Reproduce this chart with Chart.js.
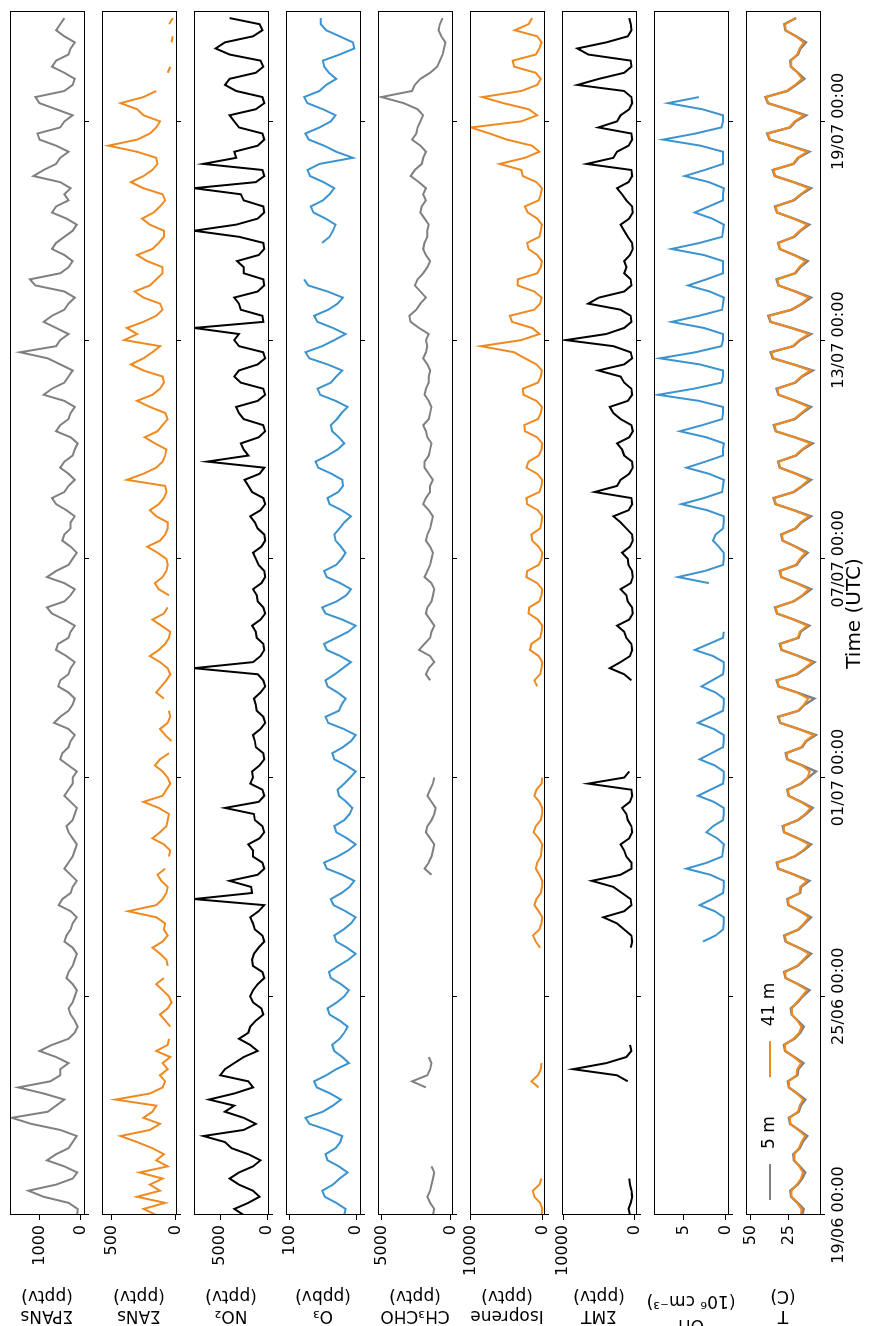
<!DOCTYPE html>
<html>
<head>
<meta charset="utf-8">
<script src="https://cdn.jsdelivr.net/npm/chart.js@4.4.0/dist/chart.umd.min.js"></script>
<style>
  html, body { margin: 0; padding: 0; background: #fff; overflow: hidden; }
  #figure { position: absolute; left: 0; top: 0; width: 1326px; height: 872px;
            transform-origin: 0 0; transform: translateY(1326px) rotate(-90deg); }
  #figure canvas { position: absolute; left: 0; }
</style>
</head>
<body>
<div id="figure"></div>
<script>
// one value every 4 h from 19/06 00:00 (00,04,08,12,16,20 UTC per day), null = no data
const STEP_HOURS = 4;
const tickDays = [0, 6, 12, 18, 24, 30];
const tickLabels = ['19/06 00:00', '25/06 00:00', '01/07 00:00', '07/07 00:00', '13/07 00:00', '19/07 00:00'];

const pans = [
  90, 80, 300, 900, 1265, 600,   200, 90, 400, 820, 600, 300,
  200, 100, 500, 1200, 1670, 800,   600, 400, 900, 1510, 740, 500,
  500, 300, 600, 1000, 700, 300,   150, 80, 150, 250, 300, 200,
  150, 100, 200, 350, 300, 200,   150, 100, 200, 400, 350, 250,
  200, 100, 250, 540, 450, 250,   200, 100, 250, 400, 300, 200,
  150, 100, 200, 300, 350, 200,   150, 100, 250, 400, 300, 200,
  200, 100, 300, 500, 450, 300,   250, 150, 300, 650, 500, 300,
  200, 150, 300, 550, 500, 300,   250, 150, 350, 600, 550, 300,
  250, 150, 400, 700, 820, 400,   250, 150, 400, 820, 600, 300,
  200, 100, 250, 450, 400, 250,   250, 150, 350, 600, 700, 400,
  300, 150, 300, 500, 400, 200,   150, 80, 250, 600, 500, 300,
  250, 150, 400, 900, 700, 400,   300, 200, 500, 800, 1470, 600,
  500, 300, 600, 900, 700, 400,   300, 150, 400, 1100, 1230, 500,
  300, 200, 400, 700, 600, 400,   200, 100, 350, 700, 600, 300,
  400, 250, 500, 1145, 900, 600,   500, 300, 600, 1000, 1050, 500,
  400, 200, 600, 1000, 1100, 400,   200, 150, 400, 700, 600, 300,
  250, 150, 400, 600, 500, 400
];

const ans = [
  150, 250, 80, 300, 120, 200,   100, 280, 60, 150, 90, 180,
  300, 430, 200, 120, 250, 180,   150, 470, 200, 100, 80, 120,
  60, 100, 40, 150, 60, 50,   null, 40, 80, 120, 60, 30,
  50, 100, 150, 90, null, 60,   70, 120, 180, 100, 60, 90,
  80, 150, 370, 150, 100, 70,   60, 110, 140, 80, null, 50,
  40, 90, 180, 120, 70, 60,   50, 130, 250, 100, 70, 40,
  60, 100, 160, 120, 50, null,   30, 80, 120, 60, 40, 50,
  null, 90, 150, 110, 70, 40,   60, 120, 200, 130, 80, 50,
  40, 110, 180, 90, 60, null,   50, 130, 160, 100, 70, 60,
  70, 140, 220, 120, 80, 60,   60, 150, 200, 130, 90, 70,
  80, 380, 250, 150, 100, 80,   70, 160, 240, 140, 100, 60,
  80, 200, 300, 180, 120, 90,   100, 250, 350, 250, 180, 120,
  400, 300, 380, 250, 150, 100,   120, 250, 320, 200, 150, 100,
  100, 220, 300, 180, 130, 90,   90, 200, 260, 170, 120, 80,
  100, 250, 350, 250, 180, 140,   150, 300, 525, 300, 200, 150,
  120, 250, 300, 430, 250, 150,   null, null, 60, 40, null, 30,
  null, 30, 20, null, 50, 20
];

const no2 = [
  2500, 3500, 2000, 800, 1500, 3000,   4000, 3000, 1500, 700, 2000, 3800,
  4500, 6800, 2500, 1200, 2500, 4500,   3500, 6200, 3500, 1500, 2000, 5000,
  4500, 3500, 2500, 1000, 1800, 3000,   2000, 1800, 1200, 400, 600, 1500,
  1800, 1500, 1000, 300, 500, 1500,   1600, 1400, 900, 300, 500, 1300,
  1500, 1800, 900, 300, 7800, 1600,   1700, 4000, 1000, 300, 500, 1500,
  1500, 2000, 800, 300, 500, 1300,   1400, 4500, 900, 300, 500, 1800,
  1500, 1600, 800, 300, 400, 1200,   1300, 1500, 700, 200, 400, 1100,
  1200, 1400, 700, 200, 400, 1000,   7800, 1500, 700, 300, 400, 1100,
  1200, 1600, 700, 200, 400, 1000,   1100, 1500, 600, 200, 300, 900,
  1200, 1500, 600, 200, 300, 1000,   1300, 1800, 700, 200, 400, 1600,
  2000, 2400, 800, 300, 6400, 2000,   2500, 2800, 900, 200, 400, 2500,
  3000, 3300, 1000, 200, 400, 2800,   3500, 3000, 1000, 200, 400, 3000,
  3500, 3000, 7800, 400, 500, 2800,   3000, 3500, 1000, 300, 400, 2500,
  2500, 3200, 900, 300, 400, 3000,   7800, 3300, 1000, 300, 400, 2500,
  2800, 7800, 1200, 300, 500, 6800,   3300, 3500, 1000, 300, 500, 3000,
  3500, 4000, 1200, 300, 500, 3300,   4500, 4000, 1200, 400, 700, 4000,
  5500, 4500, 1500, 500, 800, 4000
];

const o3 = [
  18, 16, 30, 47, 51, 35,   25, 13, 26, 43, 46, 31,
  24, 21, 43, 70, 76, 50,   35, 23, 39, 59, 63, 45,
  30, 11, 21, 33, 36, 25,   18, 13, 25, 40, 43, 29,
  18, 11, 23, 38, 41, 27,   12, 1, 14, 30, 33, 19,
  8, 1, 16, 34, 38, 22,   10, 3, 21, 44, 48, 28,
  12, 1, 14, 30, 33, 18,   10, 6, 15, 26, 28, 18,
  9, 1, 15, 33, 36, 20,   8, 1, 19, 42, 46, 26,
  22, 16, 28, 43, 46, 32,   20, 8, 24, 44, 48, 30,
  12, 1, 21, 46, 51, 29,   15, 8, 24, 44, 48, 30,
  22, 16, 23, 31, 33, 25,   18, 8, 22, 40, 43, 27,
  20, 21, 37, 57, 61, 43,   28, 18, 26, 36, 38, 29,
  22, 13, 31, 54, 58, 38,   30, 21, 43, 70, 76, 51,
  33, 16, 35, 58, 63, 42,   28, 20, 43, 72, 78, null,
  null, null, null, null, 51, 40,   35, 31, 46, 64, 68, 50,
  40, 33, 49, 69, 73, 55,   5, 30, 48, 71, 76, 55,
  38, 31, 50, 73, 78, 55,   45, 30, 41, 48, 50, 25,
  3, 5, 25, 45, 53, 53
];

const ch3cho = [
  1300, 1200, 1500, 1700, 1500, 1400,   1300, 1200, 1400, null, null, null,
  null, null, null, null, null, null,   null, null, null, 1800, 2800, 1700,
  1500, 1400, 1600, null, null, null,   null, null, null, null, null, null,
  null, null, null, null, null, null,   null, null, null, null, null, null,
  null, null, null, null, null, null,   null, null, 1400, 1900, 1600, 1400,
  1300, 1200, 1500, 1800, 1700, 1400,   1200, 1100, 1400, 1700, 1500, 1300,
  1200, null, null, null, null, null,   null, null, null, null, null, null,
  null, null, null, null, 1500, 1800,   1600, 1200, 1500, 2300, 1900, 1500,
  1400, 1200, 1500, 1800, 1700, 1400,   1300, 1200, 1400, 1900, 1700, 1500,
  1400, 1300, 1500, 1800, 1700, 1500,   1400, 1300, 1600, 2000, 1800, 1500,
  1500, 1300, 1600, 1900, 1900, 1600,   1500, 1400, 1700, 1800, 2000, 1600,
  1500, 1400, 1600, 1900, 1800, 1600,   1600, 1500, 1700, 2000, 1800, 1700,
  1800, 1600, 2300, 2900, 3000, 2500,   2200, 1800, 2200, 2600, 2400, 2000,
  1700, 1500, 1800, 2000, 1900, 1700,   1700, 1600, 1900, 2200, 2100, 1800,
  2000, 1800, 2300, 2900, 2600, 2100,   2000, 1800, 2200, 2800, 2500, 2400,
  2200, 2000, 2400, 3400, 5000, 2800,   2600, 2200, 1500, 1000, 800, 600,
  500, 400, 700, 900, 800, 600
];

const isoprene = [
  200, 100, 400, 1200, 1400, 500,   200, null, null, null, null, null,
  null, null, null, null, null, null,   null, null, null, 600, 1600, 700,
  300, 200, null, null, null, null,   null, null, null, null, null, null,
  null, null, null, null, null, null,   null, null, 400, 1000, 1400, 500,
  200, 100, 600, 1200, 900, 300,   150, 100, 500, 1000, 800, 300,
  200, 100, 600, 1300, 1000, 300,   150, 100, 500, 1200, 900, 200,
  100, null, null, null, null, null,   null, null, null, null, null, null,
  null, null, null, 800, 1200, 400,   200, 100, 600, 1800, 1600, 400,
  200, 100, 700, 2000, 1900, 500,   200, 100, 800, 2300, 2200, 600,
  200, 100, 600, 1500, 1600, 400,   200, 100, 700, 2200, 2300, 500,
  200, 100, 800, 2300, 2000, 600,   200, 100, 800, 2500, 2600, 700,
  300, 150, 900, 2700, 2800, 700,   300, 150, 900, 2500, 4000, 8600,
  3000, 500, 1500, 4300, 4600, 1200,   400, 200, 1200, 3500, 3500, 800,
  300, 150, 800, 2000, 2200, 500,   300, 150, 800, 2100, 2500, 600,
  300, 150, 900, 2800, 3000, 6000,   2500, 500, 1500, 5000, 7400, 10000,
  3000, 800, 2000, 5500, 8400, 3000,   800, 300, 1000, 4000, 4200, 1000,
  500, 200, 800, 3900, 2000, 1500
];

const mt = [
  700, 900, 600, 400, 500, 700,   800, null, null, null, null, null,
  null, null, null, null, null, null,   null, null, null, null, 1000, 2500,
  8600, 4000, 1200, 500, 700, null,   null, null, null, null, null, null,
  null, null, null, null, null, null,   null, null, 600, 400, 500, 1500,
  2500, 4400, 1500, 500, 600, 1800,   3000, 6000, 2000, 500, 500, 1200,
  1500, 2000, 800, 400, 500, 1000,   1200, 1800, 700, 400, 500, 6500,
  1500, 800, null, null, null, null,   null, null, null, null, null, null,
  null, null, null, null, 500, 1500,   3500, 2000, 700, 400, 500, 1200,
  1500, 2500, 800, 300, 400, 1000,   1200, 2000, 600, 300, 400, 900,
  1000, 1800, 700, 300, 400, 1200,   2000, 3000, 900, 400, 500, 5600,
  2500, 2000, 800, 300, 400, 1500,   1800, 2500, 800, 300, 500, 2000,
  3000, 3500, 1000, 400, 500, 1500,   2000, 5100, 1500, 400, 600, 3000,
  9600, 4000, 1500, 500, 600, 2000,   6500, 5000, 1500, 500, 600, 1500,
  1200, 1500, 700, 300, 400, 1000,   1500, 2000, 800, 300, 400, 1200,
  1800, 2500, 900, 400, 500, 6700,   3000, 2500, 900, 400, 500, 5100,
  2500, 2000, 800, 400, 500, 1500,   8000, 5000, 1500, 500, 600, 6500,
  8000, 4000, 1000, 500, 600, 800
];

const oh = [
  null, null, null, null, null, null,   null, null, null, null, null, null,
  null, null, null, null, null, null,   null, null, null, null, null, null,
  null, null, null, null, null, null,   null, null, null, null, null, null,
  null, null, null, null, null, null,   null, null, null, 2.7, 1.2, 0.3,
  0.2, 0.2, 1.3, 3.1, 1.6, 0.3,   0.2, 0.2, 1.8, 4.7, 2.2, 0.4,
  0.3, 0.2, 1.0, 2.3, 1.5, 0.3,   0.2, 0.2, 1.4, 3.3, 1.8, 0.3,
  0.2, 0.2, 1.3, 3.1, 1.7, 0.3,   0.2, 0.2, 1.4, 3.3, 1.8, 0.3,
  0.2, 0.2, 1.2, 2.9, 1.6, 0.3,   0.2, 0.2, 1.5, 3.7, 2.0, 0.3,
  0.2, null, null, null, null, null,   null, null, 2.0, 5.7, 2.5, 0.3,
  0.2, 0.2, 0.8, 1.5, 1.2, 0.3,   0.2, 0.2, 2.2, 5.3, 2.6, 0.4,
  0.3, 0.2, 2.0, 4.7, 2.4, 0.3,   0.3, 0.2, 2.3, 5.5, 2.8, 0.4,
  0.3, 0.3, 3.2, 8.1, 3.8, 0.5,   0.3, 0.3, 3.1, 7.9, 3.6, 0.5,
  0.3, 0.3, 2.6, 6.5, 3.2, 0.4,   0.3, 0.2, 1.9, 4.5, 2.3, 0.3,
  0.3, 0.3, 2.6, 6.5, 3.1, 0.4,   0.3, 0.2, 1.6, 3.7, 2.0, 0.3,
  0.3, 0.2, 2.0, 4.9, 2.5, 0.3,   0.3, 0.3, 3.0, 7.5, 3.6, 0.5,
  0.3, 0.3, 2.8, 6.9, 3.2, null,   null, null, null, null, null, null,
  null, null, null, null, null, null
];

const temp5m = [
  16, 15, 19, 23.3, 23.8, 19,   16, 14, 17.6, 21.4, 21.8, 17.6,
  15.7, 12.6, 18.2, 24, 24.8, 18.2,   16.9, 13.9, 19.2, 24.8, 25.5, 19.2,
  18.5, 15.2, 21.1, 27.3, 28.1, 21.1,   17.2, 15, 18.9, 23, 23.5, 18.9,
  15.5, 11.3, 18.8, 27, 27.8, 18.8,   14.7, 10.2, 18.2, 26.9, 27.8, 18.2,
  14.2, 10.2, 17.3, 25.1, 25.8, 17.3,   16.7, 11.3, 21, 31.7, 32.8, 21,
  14.9, 10.2, 18.7, 27.9, 28.8, 18.7,   13.3, 9.1, 16.7, 25, 25.8, 16.7,
  12, 7, 16, 25.8, 26.8, 16,   13.3, 7, 18.3, 30.5, 31.8, 18.3,
  14.3, 8, 19.3, 31.5, 32.8, 19.3,   13.8, 8, 18.4, 29.6, 30.8, 18.4,
  17, 11.3, 21.5, 32.6, 33.8, 21.5,   15.4, 10.2, 19.6, 29.8, 30.8, 19.6,
  16.8, 12.4, 20.3, 28.9, 29.8, 20.3,   16.4, 10.2, 21.4, 33.5, 34.8, 21.4,
  15.7, 10.2, 20, 30.7, 31.8, 20,   15.6, 9.1, 20.8, 33.4, 34.7, 20.8,
  15.9, 10.2, 20.5, 31.6, 32.8, 20.5,   16.1, 9.1, 21.7, 35.3, 36.7, 21.7,
  17.3, 10.2, 22.9, 36.8, 38.2, 22.9,   15.9, 10.2, 20.5, 31.6, 32.8, 20.5,
  17.3, 12.4, 21.2, 30.8, 31.8, 21.2,   17, 11.3, 21.5, 32.6, 33.8, 21.5,
  16.5, 10.2, 21.6, 34, 35.3, 21.6,   18.4, 11.3, 24, 37.3, 39, 24,
  20.3, 13.5, 25.7, 38.5, 40.2, 25.7,   20, 14.6, 18.8, 23.4, 23.9, 18.8,
  17.1, 13.5, 20, 27.1, 27.8, 20
];

const temp41m = [
  16.8, 16.5, 19.3, 23, 23.2, 19.6,   16.8, 15.5, 17.9, 21.1, 21.2, 18.2,
  16.5, 14.1, 18.5, 23.7, 24.2, 18.8,   17.7, 15.4, 19.5, 24.5, 24.9, 19.8,
  19.3, 16.7, 21.4, 27, 27.5, 21.7,   18, 16.5, 19.2, 22.7, 22.9, 19.5,
  16.1, 12.8, 19, 26.8, 27.3, 19.3,   15.3, 11.7, 18.4, 26.7, 27.3, 18.7,
  14.8, 11.7, 17.5, 24.9, 25.3, 17.8,   17.3, 12.8, 21.2, 31.5, 32.3, 21.5,
  15.5, 11.7, 18.9, 27.7, 28.3, 19.2,   13.9, 10.6, 16.9, 24.8, 25.3, 17.2,
  12.6, 11, 16.2, 25.6, 26.3, 16.5,   13.9, 8.5, 18.5, 30.3, 31.3, 18.8,
  14.9, 12, 19.5, 31.3, 32.3, 19.8,   14.4, 9.5, 18.6, 29.4, 30.3, 18.9,
  17.6, 12.8, 21.7, 32.4, 33.3, 22,   16, 11.7, 19.8, 29.6, 30.3, 20.1,
  17.4, 13.9, 20.5, 28.7, 29.3, 20.8,   17, 11.7, 21.6, 33.3, 34.3, 21.9,
  16.3, 11.7, 20.2, 30.5, 31.3, 20.5,   16.2, 10.6, 21, 33.2, 34.2, 21.3,
  16.5, 11.7, 20.7, 31.4, 32.3, 21,   16.7, 10.6, 21.9, 35.1, 36.2, 22.2,
  17.9, 11.7, 23.1, 36.6, 37.7, 23.4,   16.5, 11.7, 20.7, 31.4, 32.3, 21,
  17.9, 13.9, 21.4, 30.6, 31.3, 21.7,   17.6, 12.8, 21.7, 32.4, 33.3, 22,
  17.1, 11.7, 21.8, 33.8, 34.8, 22.1,   19, 12.8, 24.2, 37.1, 38.5, 24.5,
  20.9, 15, 25.9, 38.3, 39.7, 26.2,   20.6, 16.1, 19, 23.2, 23.4, 19.3,
  17.7, 15, 20.2, 26.9, 27.3, 20.5
];

const GRAY = '#808080';
const ORANGE = '#ee8a1f';
const BLUE = '#3b93cf';
const BLACK = '#000000';

// figure geometry (unrotated, landscape)
const FIG_W = 1326, FIG_H = 872;
const PLOT_LEFT = 111, PLOT_RIGHT = 1314;
const PANEL_TOP0 = 10, PANEL_STEP = 92, PANEL_H = 74;

const panels = [
  { title: ['ΣPANs', '(pptv)'], min: -73, max: 1711, ticks: [0, 1000], series: [{ data: pans, color: GRAY }] },
  { title: ['ΣANs', '(pptv)'], min: -5, max: 575, ticks: [0, 500], series: [{ data: ans, color: ORANGE }] },
  { title: ['NO₂', '(pptv)'], min: -100, max: 7800, ticks: [0, 5000], series: [{ data: no2, color: BLACK }] },
  { title: ['O₃', '(ppbv)'], min: -5.5, max: 105, ticks: [0, 100], series: [{ data: o3, color: BLUE }] },
  { title: ['CH₃CHO', '(pptv)'], min: -72, max: 5245, ticks: [0, 5000], series: [{ data: ch3cho, color: GRAY }] },
  { title: ['Isoprene', '(pptv)'], min: -140, max: 10110, ticks: [0, 10000], series: [{ data: isoprene, color: ORANGE }] },
  { title: ['ΣMT', '(pptv)'], min: -140, max: 10140, ticks: [0, 10000], series: [{ data: mt, color: BLACK }] },
  { title: ['OH', '(10⁶ cm⁻³)'], min: -0.3, max: 8.6, ticks: [0, 5], series: [{ data: oh, color: BLUE }],
    titleLineHeight: 24 / 17, titlePad: -10 },
  // order: the 41 m line (order 0) is painted over the 5 m line (order 1)
  { title: ['T', '(C)'], min: 4.3, max: 52.9, ticks: [25, 50],
    series: [{ data: temp5m, color: GRAY, label: '5 m', width: 2.4, order: 1 },
             { data: temp41m, color: ORANGE, label: '41 m', width: 2, order: 0 }] }
];

Chart.defaults.font.family = '"DejaVu Sans", sans-serif';
Chart.defaults.color = '#000';

function toPoints(values) {
  return values.map((v, i) => ({ x: i * STEP_HOURS / 24, y: v }));
}

const frame = {
  id: 'frame',
  afterDraw(chart) {
    const { ctx, chartArea: a } = chart;
    ctx.save();
    ctx.strokeStyle = '#000';
    ctx.lineWidth = 1;
    ctx.strokeRect(Math.round(a.left) + 0.5, Math.round(a.top) + 0.5,
                   Math.round(a.right - a.left), Math.round(a.bottom - a.top));
    ctx.restore();
  }
};

// legend drawn inside the temperature panel, like matplotlib's frameless legend
const tempLegend = {
  id: 'tempLegend',
  afterDraw(chart) {
    const { ctx, chartArea: a } = chart;
    const y = a.top + 24;
    let x = a.left + 15;
    ctx.save();
    ctx.font = '17px "DejaVu Sans"';
    ctx.textBaseline = 'middle';
    chart.data.datasets.forEach(ds => {
      ctx.strokeStyle = ds.borderColor;
      ctx.lineWidth = 2;
      ctx.beginPath();
      ctx.moveTo(x, y);
      ctx.lineTo(x + 36, y);
      ctx.stroke();
      x += 36 + 15;
      ctx.fillStyle = '#000';
      ctx.fillText(ds.label, x, y);
      x += ctx.measureText(ds.label).width + 39;
    });
    ctx.restore();
  }
};

const fig = document.getElementById('figure');

panels.forEach((p, i) => {
  const last = i === panels.length - 1;
  const top = PANEL_TOP0 + i * PANEL_STEP;
  const bottom = top + PANEL_H;
  const canvasTop = top - 40;
  const canvasBottom = last ? FIG_H : bottom + 40;
  const xAxisH = canvasBottom - bottom;

  const canvas = document.createElement('canvas');
  canvas.width = FIG_W;
  canvas.height = canvasBottom - canvasTop;
  canvas.style.top = canvasTop + 'px';
  fig.appendChild(canvas);

  new Chart(canvas.getContext('2d'), {
    type: 'line',
    data: {
      datasets: p.series.map(s => ({
        label: s.label || '',
        data: toPoints(s.data),
        borderColor: s.color,
        backgroundColor: s.color,
        borderWidth: s.width || 2,
        order: s.order || 0,
        pointRadius: 0,
        tension: 0
      }))
    },
    options: {
      responsive: false,
      animation: false,
      devicePixelRatio: 1,
      layout: { padding: { top: 40, right: FIG_W - PLOT_RIGHT, left: 0, bottom: 0 } },
      plugins: { legend: { display: false }, tooltip: { enabled: false } },
      scales: {
        x: {
          type: 'linear',
          min: 0,
          max: 33,
          afterBuildTicks: ax => { ax.ticks = tickDays.map(v => ({ value: v })); },
          afterFit: ax => { ax.height = xAxisH; },
          border: { display: false },
          grid: { drawOnChartArea: false, drawTicks: true, tickLength: 5, color: '#000' },
          ticks: {
            display: last,
            autoSkip: false,
            maxRotation: 0,
            padding: 4,
            font: { size: 16 },
            callback: (v, idx) => tickLabels[idx]
          },
          title: { display: last, text: 'Time (UTC)', font: { size: 20 }, padding: { top: 0, bottom: 5 } }
        },
        y: {
          min: p.min,
          max: p.max,
          afterBuildTicks: ax => { ax.ticks = p.ticks.map(v => ({ value: v })); },
          afterFit: ax => { ax.width = PLOT_LEFT; },
          border: { display: false },
          grid: { drawOnChartArea: false, drawTicks: true, tickLength: 5, color: '#000' },
          ticks: { padding: 5, font: { size: 16 }, callback: v => String(v) },
          title: {
            display: true,
            text: p.title,
            font: { size: 17, lineHeight: p.titleLineHeight || 1.2 },
            padding: { top: p.titlePad || 0, bottom: 0 }
          }
        }
      }
    },
    plugins: last ? [frame, tempLegend] : [frame]
  });
});
</script>
</body>
</html>
